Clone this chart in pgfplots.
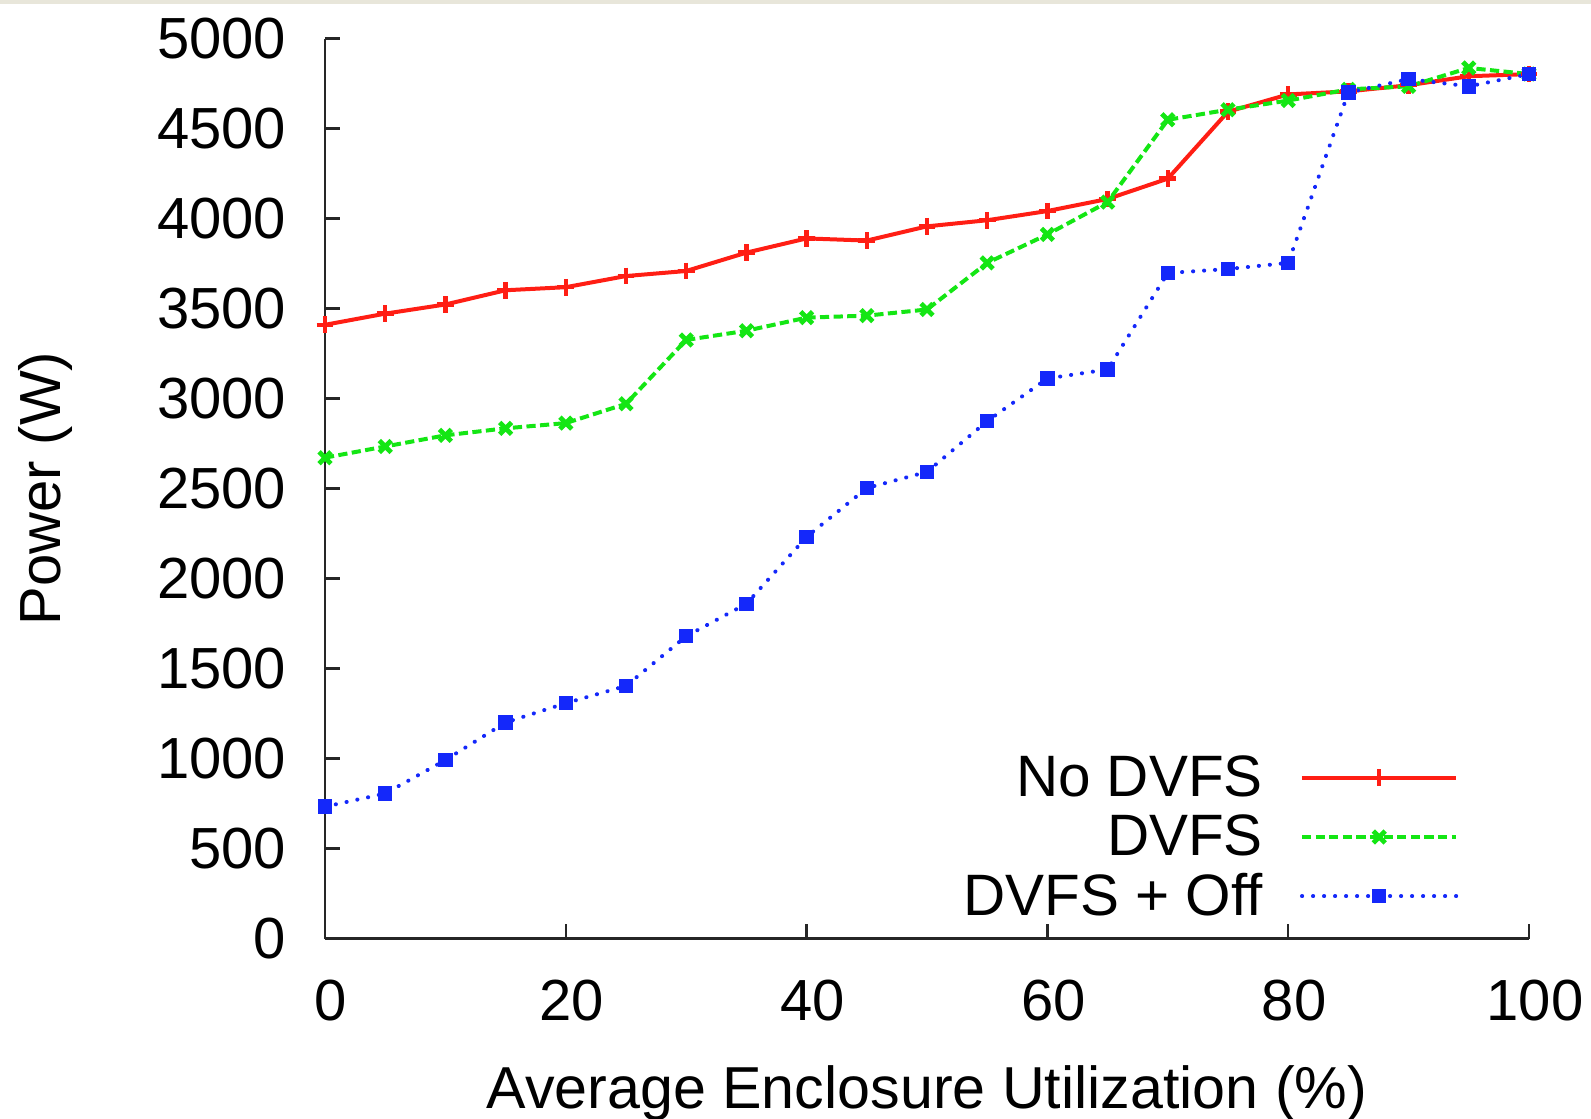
\documentclass[border=0pt]{standalone}
\usepackage{fontspec}
\setmainfont{Liberation Sans}
\usepackage{pgfplots}
\pgfplotsset{compat=1.18}
\definecolor{gpred}{RGB}{255,30,20}
\definecolor{gpgreen}{RGB}{20,230,20}
\definecolor{gpblue}{RGB}{20,40,250}
\definecolor{strip}{RGB}{232,230,218}
\pgfplotstableread{
x nodvfs dvfs off
0 3410 2672 733
5 3472 2734 806
10 3523 2796 992
15 3602 2835 1201
20 3619 2864 1308
25 3681 2971 1404
30 3709 3326 1680
35 3811 3377 1860
40 3890 3450 2232
45 3878 3461 2503
50 3957 3495 2593
55 3991 3754 2875
60 4042 3912 3112
65 4109 4092 3162
70 4222 4549 3698
75 4594 4605 3720
80 4690 4656 3754
85 4707 4718 4701
90 4741 4735 4775
95 4791 4837 4735
100 4803 4803 4803
}\datatable
\begin{document}
\fontsize{14.5}{17}\selectfont
\begin{tikzpicture}
\path[use as bounding box] (-81.25pt,-44.85pt) rectangle (316.5pt,234.65pt);
\fill[strip] (-81.25pt,233.6pt) rectangle (316.5pt,234.65pt);
\begin{axis}[
  scale only axis, width=301pt, height=225pt,
  at={(0,0)}, anchor=south west,
  xmin=0, xmax=100, ymin=0, ymax=5000,
  axis lines*=left,
  axis line style={line width=0.6pt, black!85},
  tick style={line width=0.6pt, black!85},
  tick align=inside, major tick length=3.7pt,
  xtick={0,20,40,60,80,100},
  ytick={0,500,...,5000},
  /pgf/number format/assume math mode=true,
  /pgf/number format/1000 sep={},
  every tick label/.append style={font=\fontsize{14.5}{17}\selectfont},
  yticklabel style={anchor=east, inner sep=0pt, xshift=-9.5pt},
  xticklabel style={anchor=north, inner sep=0pt, yshift=-10.1pt, xshift=1.5pt},
  xlabel={Average Enclosure Utilization (\%)},
  ylabel={Power (W)},
  every axis x label/.style={at={(axis description cs:0.5,-0.1713)}, anchor=center, font=\fontsize{14.8}{17}\selectfont},
  every axis y label/.style={at={(axis description cs:-0.2319,0.5)}, anchor=center, rotate=90},
  clip=false,
  legend plot pos=right,
  legend cell align=right,
  legend style={draw=none, fill=none, inner sep=0pt, column sep=9.3pt,
    at={(axis description cs:0.942,0.0056)}, anchor=south east,
    nodes={inner sep=0pt, text height=10.4pt, text depth=4.4pt},
    font=\fontsize{14.6}{17}\selectfont},
  legend image code/.code={\draw[yshift=1.75pt, mark repeat=2,mark phase=2] plot coordinates {(0pt,0pt) (19.3pt,0pt) (38.6pt,0pt)};},
]
\addplot[gpred, line width=1pt, mark=+, mark size=2.1pt, mark options={solid, line width=1.1pt}] table[x=x,y=nodvfs] {\datatable};
\addlegendentry{No DVFS}
\addplot[gpgreen, line width=1pt, dash pattern=on 2.3pt off 1.1pt, mark=x, mark size=2.1pt, mark options={solid, line width=1.2pt}] table[x=x,y=dvfs] {\datatable};
\addlegendentry{DVFS}
\addplot[gpblue, line width=1pt, line cap=round, dash pattern=on 0.05pt off 2.7pt, mark=square*, mark size=1.6pt, mark options={solid, line width=0.4pt}] table[x=x,y=off] {\datatable};
\addlegendentry{DVFS + Off}
\end{axis}
\end{tikzpicture}
\end{document}
